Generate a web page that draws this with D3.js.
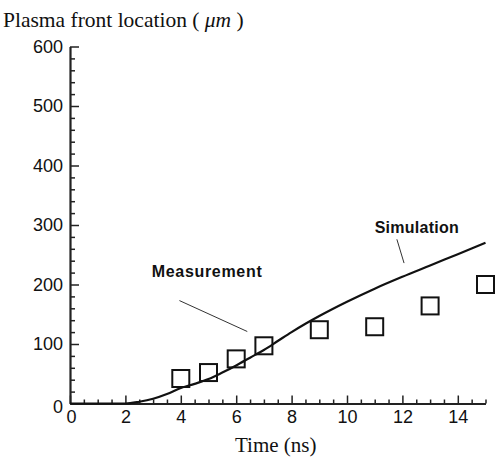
<!DOCTYPE html>
<html>
<head>
<meta charset="utf-8">
<script src="https://cdn.jsdelivr.net/npm/d3@7"></script>
<style>
  body { margin: 0; background: #fff; }
  svg { display: block; }
</style>
</head>
<body>
<div id="chart"></div>
<script>
// Plasma front location vs time

// Simulation curve (time ns, location um)
const simTime = [0, 1, 2, 2.5, 3, 3.5, 4, 4.5, 5, 5.5, 6, 6.5, 7, 7.5, 8, 8.5, 9, 10, 11, 12, 13, 14, 15];
const simLoc  = [0, 0, 0, 3, 8, 16, 26, 33, 41, 52, 64, 77, 90, 105, 120, 134, 147, 171, 193, 213, 232, 251, 270];

// Measured points
const measTime = [4, 5, 6, 7, 9, 11, 13, 15];
const measLoc  = [42, 52, 75, 97, 124, 129, 164, 200];

const xTicks = [0, 2, 4, 6, 8, 10, 12, 14];
const yTicks = [0, 100, 200, 300, 400, 500, 600];

const width = 495, height = 457;
const margin = { top: 46.5, right: 9.5, bottom: 53.5, left: 70 };

const svg = d3.select('#chart').append('svg')
    .attr('width', width)
    .attr('height', height);

const x = d3.scaleLinear().domain([0, 15]).range([margin.left, width - margin.right]);
const y = d3.scaleLinear().domain([0, 600]).range([height - margin.bottom, margin.top]);

const axisColor = '#222';

// minor ticks first, then major ticks
const xMinor = d3.range(0, 15.01, 0.5).filter(v => v % 2 !== 0);
const yMinor = d3.range(0, 601, 20).filter(v => v % 100 !== 0);

const xAxis = svg.append('g')
    .attr('transform', `translate(0,${y(0)})`);
xAxis.call(d3.axisBottom(x).tickValues(xMinor).tickSize(-4).tickFormat(''))
    .call(g => g.select('.domain').remove());
xAxis.append('g').call(d3.axisBottom(x).tickValues(xTicks).tickSize(-8).tickSizeOuter(0).tickPadding(7)
    .tickFormat(d3.format('d')));
xAxis.selectAll('line').attr('stroke', axisColor).attr('stroke-width', 1.5);
xAxis.selectAll('.domain').attr('stroke', axisColor).attr('stroke-width', 2.2);
xAxis.selectAll('text')
    .attr('fill', '#111')
    .style('font-family', 'Liberation Sans, Arial, sans-serif')
    .style('font-size', '18px');

const yAxis = svg.append('g')
    .attr('transform', `translate(${x(0)},0)`);
yAxis.call(d3.axisLeft(y).tickValues(yMinor).tickSize(-5).tickFormat(''))
    .call(g => g.select('.domain').remove());
yAxis.append('g').call(d3.axisLeft(y).tickValues(yTicks).tickSize(-9).tickSizeOuter(0).tickPadding(7)
    .tickFormat(d3.format('d')));
yAxis.selectAll('line').attr('stroke', axisColor).attr('stroke-width', 1.5);
yAxis.selectAll('.domain').attr('stroke', axisColor).attr('stroke-width', 2.2);
yAxis.selectAll('text')
    .attr('fill', '#111')
    .style('font-family', 'Liberation Sans, Arial, sans-serif')
    .style('font-size', '18px');
// nudge the y "0" label down like the original
yAxis.selectAll('.tick text').filter(d => d === 0).attr('dy', '0.5em');
xAxis.selectAll('.tick text').filter(d => d === 0).attr('dx', '1px');

// Simulation curve
const simData = simTime.map((t, i) => ({ t, v: simLoc[i] }));
const line = d3.line()
    .x(d => x(d.t))
    .y(d => y(d.v))
    .curve(d3.curveMonotoneX);

svg.append('path')
    .datum(simData)
    .attr('fill', 'none')
    .attr('stroke', '#111')
    .attr('stroke-width', 2.2)
    .attr('d', line);

// Measurement squares
const sq = 17;
svg.selectAll('.meas')
    .data(measTime.map((t, i) => ({ t, v: measLoc[i] })))
    .enter()
    .append('rect')
    .attr('class', 'meas')
    .attr('x', d => x(d.t) - sq / 2)
    .attr('y', d => y(d.v) - sq / 2)
    .attr('width', sq)
    .attr('height', sq)
    .attr('fill', 'none')
    .attr('stroke', '#111')
    .attr('stroke-width', 2);

// Annotations (in data units)
const labelFont = 'Liberation Sans, Arial, sans-serif';
svg.append('text')
    .attr('x', x(2.95))
    .attr('y', y(213))
    .attr('textLength', 110)
    .style('font-family', labelFont)
    .style('font-weight', 'bold')
    .style('font-size', '16px')
    .attr('fill', '#111')
    .text('Measurement');
svg.append('line')
    .attr('x1', x(3.95)).attr('y1', y(173))
    .attr('x2', x(6.4)).attr('y2', y(121))
    .attr('stroke', '#333').attr('stroke-width', 1);

svg.append('text')
    .attr('x', x(11.0))
    .attr('y', y(286))
    .attr('textLength', 84)
    .style('font-family', labelFont)
    .style('font-weight', 'bold')
    .style('font-size', '16px')
    .attr('fill', '#111')
    .text('Simulation');
svg.append('line')
    .attr('x1', x(11.8)).attr('y1', y(276))
    .attr('x2', x(12.06)).attr('y2', y(236))
    .attr('stroke', '#333').attr('stroke-width', 1);

// Axis titles
const titleFont = 'Liberation Serif, Times New Roman, serif';
const yTitle = svg.append('text')
    .attr('x', 3)
    .attr('y', 27)
    .style('font-family', titleFont)
    .style('font-size', '21.5px')
    .attr('fill', '#111');
yTitle.append('tspan').text('Plasma front location ( ');
yTitle.append('tspan').style('font-style', 'italic').text('μm');
yTitle.append('tspan').text(' )');

svg.append('text')
    .attr('x', (x(0) + x(15)) / 2 - 2)
    .attr('y', 452)
    .attr('text-anchor', 'middle')
    .style('font-family', titleFont)
    .style('font-size', '21px')
    .attr('fill', '#111')
    .text('Time (ns)');
</script>
</body>
</html>
